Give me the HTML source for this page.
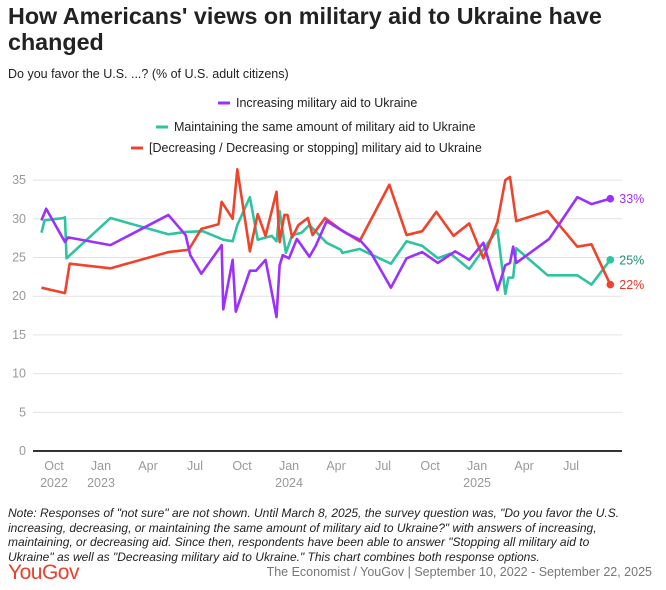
<!DOCTYPE html>
<html><head><meta charset="utf-8">
<style>
body{margin:0;width:666px;height:590px;background:#fff;font-family:"Liberation Sans",sans-serif;position:relative;overflow:hidden;color:#222}
.t{position:absolute;left:8px;top:3px;font-size:23.3px;font-weight:bold;line-height:26px;width:650px;color:#222}
.sub{position:absolute;left:8px;top:67px;font-size:12.5px;color:#222}
.note{position:absolute;left:8px;top:506px;font-size:12px;font-style:italic;line-height:14.5px;width:618px;color:#222}
.logo{position:absolute;left:8px;top:561px;font-size:21px;color:#e8412c;letter-spacing:-0.5px}
.src{position:absolute;right:14px;top:565px;font-size:12.5px;color:#777}
svg{position:absolute;left:0;top:0}
</style></head><body>
<div class="t">How Americans' views on military aid to Ukraine have changed</div>
<div class="sub">Do you favor the U.S. ...? (% of U.S. adult citizens)</div>
<svg id="c" width="666" height="500"></svg>
<div class="note">Note: Responses of "not sure" are not shown. Until March 8, 2025, the survey question was, "Do you favor the U.S. increasing, decreasing, or maintaining the same amount of military aid to Ukraine?" with answers of increasing, maintaining, or decreasing aid. Since then, respondents have been able to answer "Stopping all military aid to Ukraine" as well as "Decreasing military aid to Ukraine." This chart combines both response options.</div>
<div class="logo">YouGov</div>
<div class="src">The Economist / YouGov | September 10, 2022 - September 22, 2025</div>
<script>
// months since Oct 1 2022
const incMonths=[-0.8,-0.5,0.7,0.9,3.6,7.3,8.4,8.7,9.4,10.7,10.8,11.4,11.6,12.5,12.9,13.5,14.2,14.4,14.6,15.0,15.5,16.3,16.7,17.4,18.6,19.5,20.2,21.5,22.5,23.5,24.5,25.6,26.5,27.4,28.3,28.8,29.1,29.3,29.5,31.6,33.4,34.3,35.5];
const incValues=[29.8,31.3,27,27.6,26.6,30.5,27.9,25.3,22.9,26.6,18.3,24.7,18,23.3,23.3,24.7,17.3,24,25.3,24.9,27.4,25.1,26.5,29.7,28.2,27.3,25.7,21.1,24.9,25.7,24.3,25.8,24.7,26.9,20.8,24,24.3,26.4,24.3,27.4,32.8,31.9,32.6];
const mainMonths=[-0.8,-0.6,0.6,0.7,0.8,3.6,7.3,8.4,9.5,10.8,11.4,11.7,12.5,13.0,13.9,14.2,14.4,14.8,15.2,15.8,16.3,17.4,18.3,18.4,19.5,21.5,22.5,23.5,24.5,25.3,26.5,28.3,28.8,29.0,29.3,29.5,31.5,33.4,34.3,35.5];
const mainValues=[28.2,29.8,30.1,30.2,24.9,30.1,28,28.3,28.4,27.3,27.1,29.2,32.8,27.3,27.8,27.1,31,25.6,27.9,28.2,29.2,26.9,26,25.6,26.1,24.2,27.1,26.5,24.9,25.5,23.5,28.6,20.3,22.4,22.4,26.2,22.7,22.7,21.5,24.7];
const decMonths=[-0.8,0.7,1.0,3.6,7.3,8.6,9.4,10.5,10.7,11.4,11.7,12.5,13.0,13.5,14.2,14.4,14.7,14.9,15.2,15.6,16.2,16.5,17.3,18.3,19.5,21.4,22.5,23.5,24.4,25.5,26.5,27.4,28.3,28.8,29.1,29.5,31.5,33.4,34.3,35.5];
const decValues=[21.1,20.4,24.2,23.6,25.7,26,28.7,29.3,32.2,30,36.4,25.8,30.6,27.8,33.5,27,30.5,30.5,27.6,29.2,30.1,27.9,30.1,28.6,27.1,34.4,27.9,28.4,30.9,27.8,29.4,24.9,29.6,35,35.4,29.7,31,26.4,26.7,21.5];
const yTicks=[0,5,10,15,20,25,30,35];
const xTickMonths=[0,3,6,9,12,15,18,21,24,27,30,33];
const xTickLabels=["Oct","Jan","Apr","Jul","Oct","Jan","Apr","Jul","Oct","Jan","Apr","Jul"];
const xTickYears=["2022","2023","","","","2024","","","","2025","",""];
const legendLabels=["Increasing military aid to Ukraine","Maintaining the same amount of military aid to Ukraine","[Decreasing / Decreasing or stopping] military aid to Ukraine"];
const colors=["#9b30ff","#2ec4a0","#f0432c"];
const labelColors=["#9b30ff","#1f8f74","#e8352a"];

const svg=document.getElementById('c');
const NS='http://www.w3.org/2000/svg';
const X=m=>54+m*15.67;
const Y=v=>451-v*7.74;
function mk(tag,attrs,parent){const e=document.createElementNS(NS,tag);for(const k in attrs)e.setAttribute(k,attrs[k]);(parent||svg).appendChild(e);return e;}

yTicks.forEach(v=>{
  const l=mk('line',{x1:33,x2:622,y1:Y(v),y2:Y(v),stroke:v===0?'#333':'#e2e2e2','stroke-width':v===0?2:1});
  
  
  const t=mk('text',{x:26,y:Y(v)+4,'text-anchor':'end','font-size':12.5,fill:'#999'});
  t.textContent=v;
  
  
});
xTickMonths.forEach((m,i)=>{
  const t=mk('text',{x:X(m),y:470,'text-anchor':'middle','font-size':12.5,fill:'#999'});
  t.textContent=xTickLabels[i];
  
  
  if(xTickYears[i]){
    const y=mk('text',{x:X(m),y:487,'text-anchor':'middle','font-size':12.5,fill:'#999'});
    y.textContent=xTickYears[i];
    
    
  }
});
const series=[[incMonths,incValues],[mainMonths,mainValues],[decMonths,decValues]];
const order=[1,2,0];
order.forEach(i=>{
  const [ms,vs]=series[i];
  const p=mk('polyline',{points:ms.map((m,j)=>X(m)+','+Y(vs[j])).join(' '),fill:'none',stroke:colors[i],'stroke-width':2.6,'stroke-linejoin':'round'});
  
  
  const n=ms.length-1;
  const d=mk('circle',{cx:X(ms[n]),cy:Y(vs[n]),r:3.8,fill:colors[i]});
  
  
  const t=mk('text',{x:X(ms[n])+9,y:Y(vs[n])+4.5,'font-size':12.5,fill:labelColors[i]});
  t.textContent=Math.round(vs[n])+'%';
  
  
});
const legY=[107,131,152];
const legX=[218,156,131];
legendLabels.forEach((s,i)=>{
  const g=mk('g',{});
  
  
  mk('line',{x1:legX[i],x2:legX[i]+12,y1:legY[i]-4,y2:legY[i]-4,stroke:colors[i],'stroke-width':3},g);
  const t=mk('text',{x:legX[i]+18,y:legY[i],'font-size':12.5,fill:'#222'},g);
  t.textContent=s;
});
</script>
</body></html>
